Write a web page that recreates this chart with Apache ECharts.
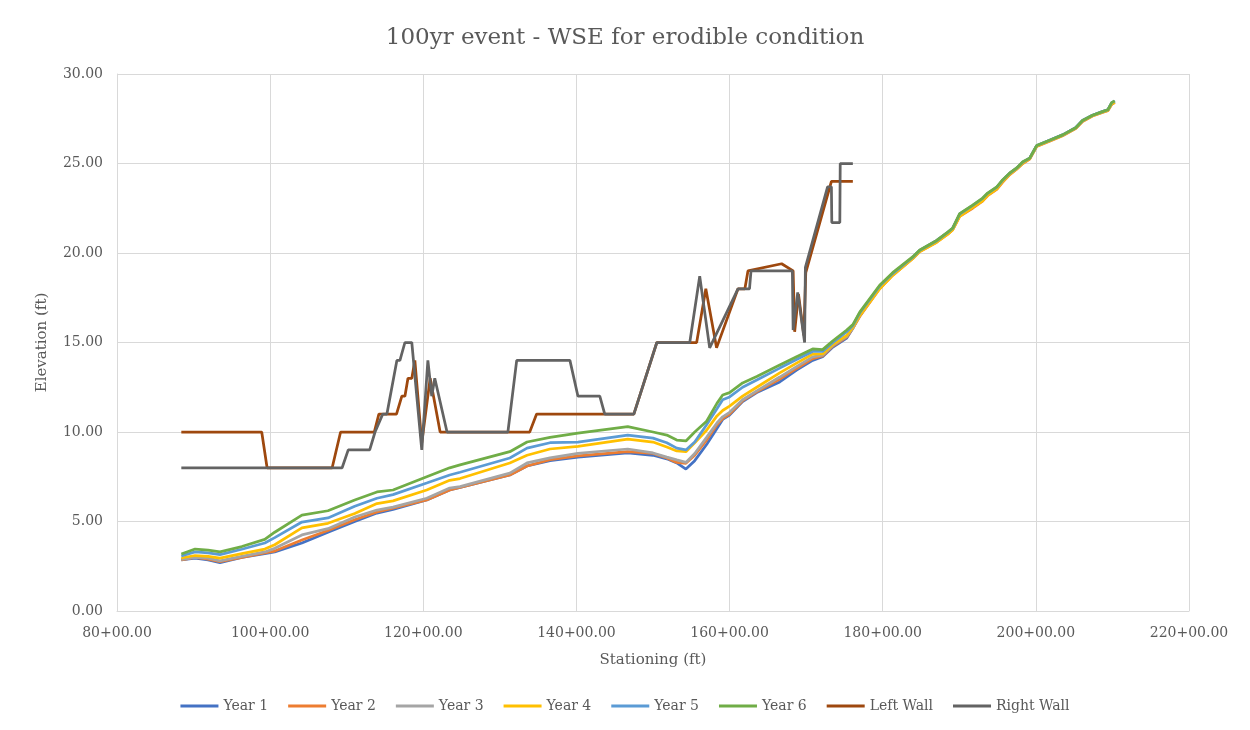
<!DOCTYPE html>
<html>
<head>
<meta charset="utf-8">
<title>100yr event - WSE for erodible condition</title>
<script src="https://cdn.jsdelivr.net/npm/echarts@6/dist/echarts.min.js"></script>
<style>
  html, body { margin: 0; padding: 0; background: #fff; }
  #chart { width: 1250px; height: 730px; }
</style>
</head>
<body>
<div id="chart"></div>
<script>
// stationing (ft) shared by the six yearly WSE profiles
const stations = [8840, 9020, 9190, 9345, 9630, 9930, 10060, 10415, 10755, 11105,
  11395, 11605, 12045, 12345, 12480, 13130, 13355, 13655, 14020, 14670,
  15000, 15180, 15310, 15430, 15545, 15700, 15835, 15910, 16000, 16170,
  16355, 16655, 16875, 17085, 17215, 17350, 17530, 17610, 17700, 17960,
  18130, 18390, 18485, 18705, 18850, 18915, 19005, 19175, 19305, 19370,
  19490, 19565, 19660, 19750, 19830, 19920, 20010, 20180, 20350, 20520,
  20610, 20740, 20870, 20940, 20990, 21030];

const year1 = [2.85, 2.96, 2.85, 2.70, 3.00, 3.20, 3.30, 3.80, 4.40, 5.00,
  5.47, 5.68, 6.20, 6.76, 6.90, 7.60, 8.10, 8.40, 8.60, 8.83,
  8.70, 8.50, 8.27, 7.93, 8.40, 9.30, 10.20, 10.70, 10.95, 11.70,
  12.20, 12.80, 13.46, 14.00, 14.20, 14.75, 15.25, 15.80, 16.50, 18.10,
  18.85, 19.75, 20.15, 20.70, 21.15, 21.40, 22.15, 22.60, 23.00, 23.30,
  23.65, 24.05, 24.45, 24.75, 25.05, 25.30, 25.98, 26.30, 26.60, 27.00,
  27.40, 27.70, 27.90, 28.00, 28.35, 28.45];
const year2 = [2.85, 3.00, 2.90, 2.75, 3.00, 3.25, 3.35, 3.97, 4.50, 5.10,
  5.53, 5.75, 6.20, 6.76, 6.90, 7.60, 8.10, 8.45, 8.66, 8.90,
  8.80, 8.55, 8.30, 8.25, 8.70, 9.55, 10.40, 10.75, 11.00, 11.75,
  12.25, 12.96, 13.55, 14.10, 14.25, 14.80, 15.30, 15.80, 16.45, 18.00,
  18.75, 19.68, 20.08, 20.60, 21.05, 21.30, 22.05, 22.50, 22.90, 23.20,
  23.55, 23.95, 24.38, 24.68, 25.00, 25.25, 25.95, 26.25, 26.55, 26.95,
  27.35, 27.65, 27.85, 27.95, 28.30, 28.40];
const year3 = [2.88, 3.00, 2.95, 2.80, 3.05, 3.30, 3.50, 4.25, 4.60, 5.25,
  5.64, 5.80, 6.30, 6.87, 6.95, 7.70, 8.27, 8.55, 8.80, 9.05,
  8.83, 8.60, 8.44, 8.30, 8.80, 9.70, 10.50, 10.85, 11.10, 11.80,
  12.30, 13.07, 13.65, 14.20, 14.30, 14.85, 15.35, 15.80, 16.50, 18.05,
  18.80, 19.72, 20.12, 20.65, 21.10, 21.35, 22.10, 22.60, 23.00, 23.30,
  23.65, 24.05, 24.45, 24.72, 25.05, 25.30, 25.98, 26.28, 26.58, 26.98,
  27.38, 27.68, 27.88, 27.98, 28.35, 28.45];
const year4 = [2.96, 3.10, 3.05, 2.95, 3.20, 3.46, 3.70, 4.64, 4.90, 5.45,
  6.00, 6.15, 6.76, 7.30, 7.40, 8.27, 8.70, 9.05, 9.20, 9.60,
  9.44, 9.16, 8.94, 8.90, 9.40, 10.10, 10.90, 11.20, 11.45, 12.00,
  12.50, 13.30, 13.85, 14.35, 14.36, 14.90, 15.40, 15.85, 16.50, 18.00,
  18.75, 19.68, 20.08, 20.60, 21.05, 21.30, 22.05, 22.55, 22.92, 23.22,
  23.58, 23.98, 24.40, 24.70, 25.02, 25.27, 25.96, 26.27, 26.57, 26.97,
  27.37, 27.67, 27.87, 27.97, 28.32, 28.42];
const year5 = [3.07, 3.30, 3.25, 3.15, 3.45, 3.80, 4.10, 4.97, 5.20, 5.85,
  6.30, 6.50, 7.15, 7.60, 7.75, 8.55, 9.10, 9.40, 9.44, 9.83,
  9.66, 9.40, 9.10, 9.00, 9.44, 10.40, 11.30, 11.80, 11.96, 12.50,
  12.90, 13.57, 14.05, 14.50, 14.50, 15.00, 15.60, 15.95, 16.65, 18.15,
  18.85, 19.75, 20.15, 20.68, 21.15, 21.38, 22.18, 22.66, 23.05, 23.33,
  23.68, 24.06, 24.46, 24.74, 25.08, 25.30, 26.00, 26.30, 26.60, 27.00,
  27.40, 27.70, 27.90, 28.00, 28.40, 28.50];
const year6 = [3.18, 3.46, 3.40, 3.30, 3.60, 4.00, 4.40, 5.36, 5.60, 6.20,
  6.65, 6.76, 7.50, 8.00, 8.16, 8.90, 9.44, 9.70, 9.94, 10.30,
  10.00, 9.83, 9.55, 9.50, 10.00, 10.60, 11.60, 12.07, 12.20, 12.74,
  13.10, 13.74, 14.20, 14.64, 14.60, 15.10, 15.70, 16.00, 16.70, 18.20,
  18.90, 19.78, 20.17, 20.70, 21.17, 21.40, 22.20, 22.68, 23.07, 23.35,
  23.70, 24.08, 24.47, 24.75, 25.10, 25.30, 26.00, 26.30, 26.60, 27.00,
  27.40, 27.70, 27.90, 28.00, 28.40, 28.50];

const leftWallSta = [8840, 9890, 9960, 10810, 10920, 11360, 11420, 11650, 11720, 11760,
  11800, 11850, 11890, 11980, 12090, 12220, 13390, 13480, 14750, 15050,
  15570, 15690, 15830, 16110, 16200, 16240, 16680, 16830, 16850, 16900,
  16970, 16995, 17330, 17610];
const leftWallElev = [10, 10, 8, 8, 10, 10, 11, 11, 12, 12,
  13, 13, 14, 9.4, 13, 10, 10, 11, 11, 15,
  15, 18, 14.7, 18, 18, 19, 19.4, 19, 15.6, 17.7,
  15.4, 18.9, 24, 24];

const rightWallSta = [8840, 10940, 11020, 11300, 11370, 11470, 11525, 11655, 11695, 11760,
  11850, 11980, 12060, 12110, 12150, 12310, 13105, 13220, 13915, 14020,
  14305, 14370, 14750, 15050, 15480, 15610, 15740, 16110, 16260, 16280,
  16820, 16830, 16890, 16980, 16990, 17280, 17330, 17335, 17440, 17445,
  17610];
const rightWallElev = [8, 8, 9, 9, 10, 11, 11, 14, 14, 15,
  15, 9, 14, 12, 13, 10, 10, 14, 14, 12,
  12, 11, 11, 15, 15, 18.7, 14.7, 18, 18, 19,
  19, 15.7, 17.8, 15, 19.2, 23.7, 23.7, 21.7, 21.7, 25,
  25];

const seriesNames = ['Year 1', 'Year 2', 'Year 3', 'Year 4', 'Year 5', 'Year 6', 'Left Wall', 'Right Wall'];
const seriesColors = ['#4472C4', '#ED7D31', '#A5A5A5', '#FFC000', '#5B9BD5', '#70AD47', '#9E480E', '#636363'];

function pairs(xs, ys) {
  return xs.map((x, i) => [x, ys[i]]);
}

const seriesData = [
  pairs(stations, year1),
  pairs(stations, year2),
  pairs(stations, year3),
  pairs(stations, year4),
  pairs(stations, year5),
  pairs(stations, year6),
  pairs(leftWallSta, leftWallElev),
  pairs(rightWallSta, rightWallElev)
];

function stationLabel(v) {
  const hundreds = Math.floor(v / 100);
  const rest = (v - hundreds * 100).toFixed(2).padStart(5, '0');
  return hundreds + '+' + rest;
}

const font = 'DejaVu Serif';
const textColor = '#595959';
const gridColor = '#d9d9d9';

let myChart = echarts.init(document.getElementById('chart'));
myChart.setOption({
  backgroundColor: '#fff',
  animation: false,
  title: {
    text: '100yr event - WSE for erodible condition',
    left: 'center',
    top: 22,
    textStyle: {
      fontFamily: font,
      fontSize: 23,
      fontWeight: 'normal',
      color: textColor
    }
  },
  grid: {
    left: 117,
    right: 61,
    top: 74,
    bottom: 119
  },
  legend: {
    bottom: 12,
    left: 'center',
    icon: 'rect',
    itemWidth: 38,
    itemHeight: 3,
    itemGap: 20,
    textStyle: {
      fontFamily: font,
      fontSize: 14,
      color: textColor
    },
    data: seriesNames
  },
  xAxis: {
    type: 'value',
    min: 8000,
    max: 22000,
    interval: 2000,
    name: 'Stationing (ft)',
    nameLocation: 'middle',
    nameGap: 42,
    nameTextStyle: { fontFamily: font, fontSize: 15, color: textColor },
    axisLine: { show: true, lineStyle: { color: gridColor, width: 1 } },
    axisTick: { show: false },
    axisLabel: {
      formatter: stationLabel,
      fontFamily: font,
      fontSize: 14,
      color: textColor,
      margin: 15
    },
    splitLine: { show: true, lineStyle: { color: gridColor, width: 1 } }
  },
  yAxis: {
    type: 'value',
    min: 0,
    max: 30,
    interval: 5,
    name: 'Elevation (ft)',
    nameLocation: 'middle',
    nameGap: 67,
    nameTextStyle: { fontFamily: font, fontSize: 15, color: textColor },
    axisLine: { show: true, lineStyle: { color: gridColor, width: 1 } },
    axisTick: { show: false },
    axisLabel: {
      formatter: v => v.toFixed(2),
      fontFamily: font,
      fontSize: 14,
      color: textColor,
      margin: 14
    },
    splitLine: { show: true, lineStyle: { color: gridColor, width: 1 } }
  },
  series: seriesNames.map((name, i) => ({
    name: name,
    type: 'line',
    data: seriesData[i],
    showSymbol: false,
    symbol: 'none',
    lineStyle: { width: 2.75, color: seriesColors[i] },
    itemStyle: { color: seriesColors[i] },
    z: 2 + i
  }))
});
</script>
</body>
</html>
